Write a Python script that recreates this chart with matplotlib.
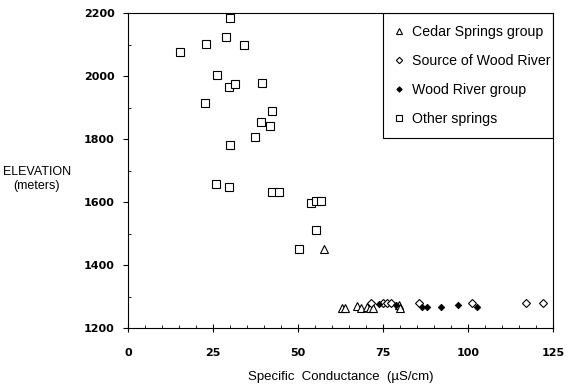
import matplotlib
matplotlib.use("Agg")
import matplotlib.pyplot as plt
from matplotlib.ticker import MultipleLocator
from matplotlib.patches import Rectangle

# Other springs (open squares)
other_x = [30.0, 28.8, 22.9, 34.2, 15.4, 26.3, 29.6, 31.4, 39.5, 22.7, 42.4, 39.2,
           41.7, 37.3, 29.9, 26.0, 29.6, 42.4, 44.3, 53.8, 55.3, 56.8, 55.2, 50.2]
other_y = [2185, 2125, 2101, 2099, 2075, 2002, 1965, 1975, 1977, 1915, 1890, 1853,
           1842, 1805, 1780, 1658, 1647, 1633, 1633, 1598, 1602, 1602, 1512, 1450]

# Cedar Springs group (open triangles)
cedar_x = [57.7, 62.8, 63.8, 67.4, 68.4, 70.2, 71.2, 72.1, 79.8, 80.0]
cedar_y = [1450, 1265, 1265, 1270, 1263, 1268, 1263, 1263, 1272, 1262]

# Source of Wood River (open diamonds)
source_x = [71.5, 75.0, 76.3, 77.3, 85.5, 101.1, 117.1, 122.0]
source_y = [1280, 1280, 1280, 1280, 1280, 1279, 1278, 1278]

# Wood River group (filled diamonds)
wood_x = [73.9, 78.8, 86.4, 88.0, 92.1, 97.0, 102.6]
wood_y = [1275, 1272, 1267, 1267, 1266, 1273, 1266]

labels = ["Cedar Springs group", "Source of Wood River", "Wood River group", "Other springs"]
xticks = [0, 25, 50, 75, 100, 125]
yticks = [1200, 1400, 1600, 1800, 2000, 2200]

plt.rcParams['font.family'] = ['Liberation Sans', 'DejaVu Sans']

fig = plt.figure(figsize=(5.74, 3.91), dpi=100)
ax = fig.add_axes([128/574, 1-328/391, 425/574, 315/391])

ax.plot(cedar_x, cedar_y, linestyle='none', marker='^', markersize=5.5,
        markerfacecolor='white', markeredgecolor='black', markeredgewidth=0.8,
        label=labels[0], zorder=3)
ax.plot(source_x, source_y, linestyle='none', marker='D', markersize=3.8,
        markerfacecolor='white', markeredgecolor='black', markeredgewidth=0.8,
        label=labels[1], zorder=3)
ax.plot(wood_x, wood_y, linestyle='none', marker='D', markersize=3.3,
        markerfacecolor='black', markeredgecolor='black', markeredgewidth=0.6,
        label=labels[2], zorder=4)
ax.plot(other_x, other_y, linestyle='none', marker='s', markersize=5.5,
        markerfacecolor='white', markeredgecolor='black', markeredgewidth=0.8,
        label=labels[3], zorder=3)

ax.set_xlim(0, 125)
ax.set_ylim(1200, 2200)
ax.set_xticks(xticks)
ax.set_yticks(yticks)
ax.xaxis.set_minor_locator(MultipleLocator(5))
ax.yaxis.set_minor_locator(MultipleLocator(100))

for s in ax.spines.values():
    s.set_linewidth(0.8)

ax.tick_params(axis='x', which='major', direction='inout', length=6, width=0.8, pad=11.5,
               labelsize=8)
ax.tick_params(axis='x', which='minor', direction='in', length=2, width=0.6)
ax.tick_params(axis='y', which='major', direction='out', length=3.6, width=0.8, pad=6,
               labelsize=8)
ax.tick_params(axis='y', which='minor', direction='in', length=2, width=0.6)
for lab in ax.get_xticklabels() + ax.get_yticklabels():
    lab.set_fontfamily('DejaVu Sans')
    lab.set_fontweight('bold')

ax.set_xlabel("Specific  Conductance  (\u00b5S/cm)", fontsize=9.5, labelpad=9)
fig.text(37/574, 1-179/391, "ELEVATION\n(meters)", ha='center', va='center',
         fontsize=9, linespacing=1.2)

leg = ax.legend(loc='upper left', bbox_to_anchor=(0.6, 1.0), frameon=False,
                borderaxespad=0, borderpad=0.85, handlelength=0.6, handletextpad=0.6,
                labelspacing=1.05, fontsize=10.2, markerscale=0.85)
ax.add_patch(Rectangle((0.6, 0.603), 0.4, 0.397, transform=ax.transAxes,
                       facecolor='none', edgecolor='black', linewidth=0.8, zorder=5))

fig.savefig("out.png", dpi=100)
